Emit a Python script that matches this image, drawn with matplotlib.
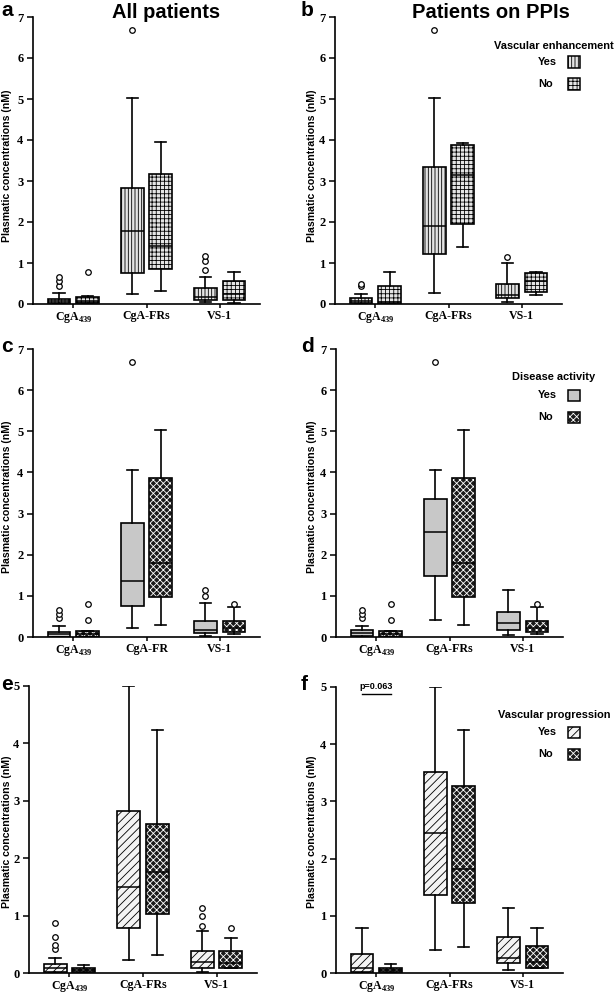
import numpy as np
import matplotlib.pyplot as plt
from matplotlib.patches import Rectangle, PathPatch

plt.rcParams["hatch.linewidth"] = 0.6
plt.rcParams["mathtext.fontset"] = "custom"
plt.rcParams["mathtext.rm"] = "Liberation Serif:bold"
plt.rcParams["mathtext.bf"] = "Liberation Serif:bold"

# ---- data: per marker [whisker low, q1, median, q3, whisker high] ----
labels_main = ["CgA$_{\\mathbf{439}}$", "CgA-FRs", "VS-1"]
labels_c = ["CgA$_{\\mathbf{439}}$", "CgA-FR", "VS-1"]

# a: all patients, vascular enhancement
a_yes = [[0.0, 0.02, 0.07, 0.13, 0.26], [0.24, 0.75, 1.77, 2.82, 5.03], [0.06, 0.09, 0.18, 0.38, 0.67]]
a_yes_out = [[0.45, 0.55, 0.65], [6.69], [0.82, 1.05, 1.16]]
a_no = [[0.0, 0.02, 0.07, 0.17, 0.19], [0.32, 0.85, 1.42, 3.17, 3.94], [0.03, 0.09, 0.24, 0.56, 0.79]]
a_no_out = [[0.77], [], []]

# b: patients on PPIs, vascular enhancement
b_yes = [[0.0, 0.02, 0.07, 0.14, 0.25], [0.27, 1.21, 1.90, 3.35, 5.03], [0.06, 0.15, 0.22, 0.49, 0.99]]
b_yes_out = [[0.43, 0.50], [6.69], [1.15]]
b_no = [[0.0, 0.01, 0.05, 0.45, 0.78], [1.40, 1.95, 3.14, 3.87, 3.93], [0.23, 0.29, 0.57, 0.75, 0.78]]
b_no_out = [[], [], []]

# c: all patients, disease activity
c_yes = [[0.0, 0.01, 0.07, 0.13, 0.26], [0.22, 0.76, 1.37, 2.76, 4.05], [0.03, 0.09, 0.17, 0.40, 0.82]]
c_yes_out = [[0.45, 0.55, 0.65], [6.69], [1.0, 1.15]]
c_no = [[0.0, 0.01, 0.07, 0.14, 0.14], [0.28, 0.98, 1.80, 3.87, 5.03], [0.08, 0.12, 0.22, 0.39, 0.74]]
c_no_out = [[0.42, 0.80], [], [0.80]]

# d: patients on PPIs, disease activity
d_yes = [[0.0, 0.02, 0.09, 0.17, 0.26], [0.41, 1.49, 2.55, 3.35, 4.05], [0.06, 0.18, 0.33, 0.61, 1.15]]
d_yes_out = [[0.45, 0.55, 0.65], [6.69], []]
d_no = [[0.0, 0.01, 0.07, 0.14, 0.14], [0.28, 0.98, 1.80, 3.87, 5.03], [0.08, 0.12, 0.22, 0.39, 0.74]]
d_no_out = [[0.42, 0.80], [], [0.80]]

# e: all patients, vascular progression
e_yes = [[0.0, 0.02, 0.08, 0.16, 0.27], [0.22, 0.79, 1.49, 2.82, 5.0], [0.02, 0.09, 0.19, 0.38, 0.73]]
e_yes_out = [[0.42, 0.49, 0.63, 0.87], [], [0.82, 1.0, 1.14]]
e_no = [[0.0, 0.01, 0.05, 0.09, 0.14], [0.32, 1.03, 1.76, 2.60, 4.23], [0.09, 0.09, 0.18, 0.38, 0.61]]
e_no_out = [[], [], [0.78]]

# f: patients on PPIs, vascular progression
f_yes = [[0.0, 0.02, 0.09, 0.34, 0.79], [0.40, 1.37, 2.45, 3.51, 5.0], [0.05, 0.18, 0.27, 0.63, 1.14]]
f_yes_out = [[], [], []]
f_no = [[0.0, 0.01, 0.05, 0.09, 0.15], [0.45, 1.22, 1.81, 3.27, 4.24], [0.09, 0.09, 0.19, 0.48, 0.79]]
f_no_out = [[], [], []]

# box fill styles: (facecolor, hatch, hatch colour)
VERT = ("#e4e4e4", "|||||", "black")
GRID = ("#e4e4e4", "++++", "black")
GRAY = ("#c8c8c8", None, "black")
DARK = ("#1a1a1a", "xxxxx", "white")
DIAG = ("#f4f4f4", "////", "black")

W, H = 615, 992
fig = plt.figure(figsize=(W / 100, H / 100), dpi=100)
OFF = 0.195
serif = dict(family="Liberation Serif", weight="bold")
sans = dict(family="Liberation Sans", weight="bold")


def px_axes(left, right, top, bottom):
    return fig.add_axes([left / W, 1 - bottom / H, (right - left) / W, (bottom - top) / H])


def style_patch(ax, patch, style):
    face, hatch, hcol = style
    if hcol == "white":
        under = PathPatch(patch.get_path(), transform=ax.transData, facecolor=face,
                          edgecolor="white", hatch=hatch, lw=0.3, zorder=1.9)
        ax.add_patch(under)
        patch.set_facecolor("none")
    else:
        patch.set_facecolor(face)
        if hatch:
            patch.set_hatch(hatch)


def draw_panel(ax, yes, yes_out, no, no_out, st_yes, st_no, labels, ymax):
    stats, pos = [], []
    for i in range(3):
        for box, out, off in ((yes[i], yes_out[i], -OFF), (no[i], no_out[i], OFF)):
            lo, q1, med, q3, hi = box
            stats.append(dict(whislo=lo, q1=q1, med=med, q3=q3, whishi=hi, fliers=out))
            pos.append(i + 1 + off)
    art = ax.bxp(stats, positions=pos, widths=0.31, patch_artist=True,
                 boxprops=dict(edgecolor="black", linewidth=1.2),
                 whiskerprops=dict(color="black", linewidth=1.2),
                 capprops=dict(color="black", linewidth=1.2),
                 medianprops=dict(color="black", linewidth=1.1),
                 flierprops=dict(marker="o", markersize=4, markerfacecolor="white",
                                 markeredgecolor="black", markeredgewidth=0.9))
    for j, patch in enumerate(art["boxes"]):
        style_patch(ax, patch, st_yes if j % 2 == 0 else st_no)

    ax.set_xlim(0.45, 3.55)
    ax.set_ylim(0, ymax)
    ax.set_xticks([1, 2, 3])
    ax.set_xticklabels(labels, fontsize=8.6, **serif)
    ax.set_yticks(np.arange(0, ymax + 1))
    ax.set_yticklabels([str(v) for v in range(ymax + 1)], fontsize=9, **serif)
    ax.tick_params(axis="y", direction="out", length=4, width=1.1, pad=3)
    ax.tick_params(axis="x", direction="out", length=3, width=1.1, pad=1)
    for s in ("top", "right"):
        ax.spines[s].set_visible(False)
    for s in ("left", "bottom"):
        ax.spines[s].set_linewidth(1.2)
    ax.patch.set_alpha(0)


def ylabel(x, yc):
    fig.text(x / W, 1 - yc / H, "Plasmatic concentrations (nM)", rotation=90,
             ha="center", va="center", fontsize=7.6, **sans)


def legend(title, y_title, y_yes, y_no, st_yes, st_no):
    fig.text(554 / W, 1 - y_title / H, title, ha="center", va="center", fontsize=7.9, **sans)
    for txt, y, st in (("Yes", y_yes, st_yes), ("No", y_no, st_no)):
        fig.text(538 / W, 1 - y / H, txt, ha="left", va="center", fontsize=7.9, **sans)
        face, hatch, hcol = st
        rect = (568 / W, 1 - (y + 5.5) / H)
        w, h = 12 / W, 11 / H
        if hcol == "white":
            fig.add_artist(Rectangle(rect, w, h, transform=fig.transFigure, facecolor=face,
                                     edgecolor="white", hatch=hatch, lw=0.3))
            fig.add_artist(Rectangle(rect, w, h, transform=fig.transFigure, facecolor="none",
                                     edgecolor="black", lw=1.1))
        else:
            fig.add_artist(Rectangle(rect, w, h, transform=fig.transFigure, facecolor=face,
                                     edgecolor="black", hatch=hatch, lw=1.1))


ax_a = px_axes(33, 260, 17, 304)
ax_b = px_axes(335, 562, 17, 304)
ax_c = px_axes(33, 260, 349, 637)
ax_d = px_axes(336, 563, 349, 637)
ax_e = px_axes(29, 257, 686, 973)
ax_f = px_axes(336, 563, 687, 973)

draw_panel(ax_a, a_yes, a_yes_out, a_no, a_no_out, VERT, GRID, labels_main, 7)
draw_panel(ax_b, b_yes, b_yes_out, b_no, b_no_out, VERT, GRID, labels_main, 7)
draw_panel(ax_c, c_yes, c_yes_out, c_no, c_no_out, GRAY, DARK, labels_c, 7)
draw_panel(ax_d, d_yes, d_yes_out, d_no, d_no_out, GRAY, DARK, labels_main, 7)
draw_panel(ax_e, e_yes, e_yes_out, e_no, e_no_out, DIAG, DARK, labels_main, 5)
draw_panel(ax_f, f_yes, f_yes_out, f_no, f_no_out, DIAG, DARK, labels_main, 5)

# p-value bracket in panel f
ax_f.plot([1 - OFF, 1 + OFF], [4.88, 4.88], color="black", lw=1.0, clip_on=False)
ax_f.text(1, 4.93, "p=0.063", ha="center", va="bottom", fontsize=6.5, **sans)

# titles and panel letters
fig.text(166 / W, 1 - 13 / H, "All patients", ha="center", va="center", fontsize=14.5, **sans)
fig.text(491 / W, 1 - 13 / H, "Patients on PPIs", ha="center", va="center", fontsize=14.5, **sans)
for letter, x, y in (("a", 1, 10), ("b", 301, 10), ("c", 1, 346), ("d", 301, 346),
                     ("e", 1, 684), ("f", 301, 684)):
    fig.text(x / W, 1 - y / H, letter, ha="left", va="center", fontsize=15, **sans)

for x, yc in ((7, 166), (312, 166), (7, 497), (312, 497), (7, 832), (312, 832)):
    ylabel(x, yc)

legend("Vascular enhancement", 46, 62, 84, VERT, GRID)
legend("Disease activity", 377, 395, 417, GRAY, DARK)
legend("Vascular progression", 715, 732, 754, DIAG, DARK)

fig.savefig("out.png", dpi=100)
